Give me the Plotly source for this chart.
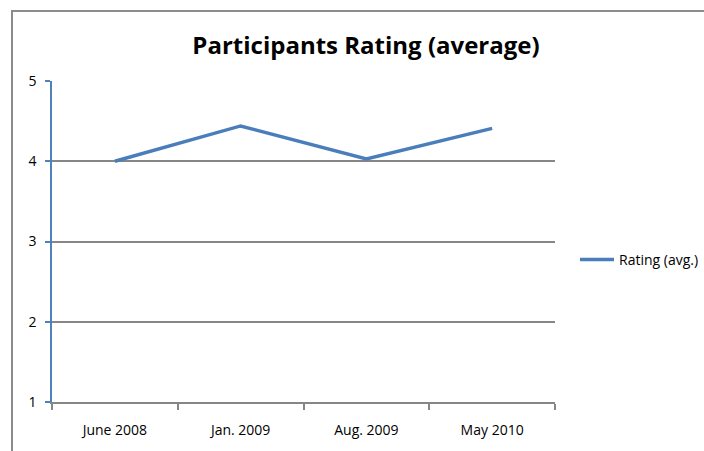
import plotly.graph_objects as go

categories = ["June 2008", "Jan. 2009", "Aug. 2009", "May 2010"]
ratings = [4.0, 4.44, 4.03, 4.41]
series_name = "Rating (avg.)"
y_ticks = [1, 2, 3, 4, 5]

W, H = 704, 451
L, R, T, B = 52, 149, 81, 49

fig = go.Figure()
fig.add_trace(go.Scatter(
    x=categories, y=ratings, mode="lines", name=series_name,
    line=dict(color="#4A7EBB", width=3.5),
))

font_main = "Open Sans, sans-serif"

fig.update_layout(
    width=W, height=H,
    margin=dict(l=L, r=R, t=T, b=B, autoexpand=False),
    paper_bgcolor="white", plot_bgcolor="white",
    title=dict(text="<b>Participants Rating (average)</b>", x=366 / W, xanchor="center",
               y=1 - 46 / H, yanchor="middle",
               font=dict(family=font_main, size=24, color="black")),
    showlegend=True,
    legend=dict(x=(575 - L) / (W - L - R), y=(402 - 260) / (H - T - B), xanchor="left", yanchor="middle",
                font=dict(family=font_main, size=14, color="black"),
                bgcolor="rgba(0,0,0,0)", itemwidth=34, tracegroupgap=0),
    font=dict(family=font_main, size=14, color="black"),
)

fig.update_xaxes(
    type="category", range=[-0.5, len(categories) - 0.5],
    showgrid=False, showline=True, linecolor="#868686", linewidth=2,
    ticks="outside", tickson="boundaries", ticklen=6, tickcolor="#868686", tickwidth=1.5,
    ticklabelstandoff=14,
    tickfont=dict(family=font_main, size=14, color="black"), fixedrange=True,
)
fig.update_yaxes(
    range=[1, 5], tickvals=y_ticks, ticktext=[str(v) for v in y_ticks],
    showgrid=True, gridcolor="#868686", gridwidth=1.5,
    showline=True, linecolor="#4F81BD", linewidth=1.5,
    ticks="outside", ticklen=5, tickcolor="#4F81BD", tickwidth=1.5,
    ticklabelstandoff=6,
    tickfont=dict(family=font_main, size=14, color="black"),
    zeroline=False, fixedrange=True,
)

# outer chart border (partly cropped in the reference)
pw, ph = W - L - R, H - T - B
fig.add_shape(type="rect", xref="paper", yref="paper",
              x0=(12 - L) / pw, x1=(W + 20 - L) / pw,
              y0=-(B + 20) / ph, y1=(H - B - 11) / ph,
              line=dict(color="#8C8C8C", width=2), fillcolor="rgba(0,0,0,0)", layer="below")

fig.write_html("out.html", config={"displayModeBar": False},
               post_script="document.body.style.margin='0';")
